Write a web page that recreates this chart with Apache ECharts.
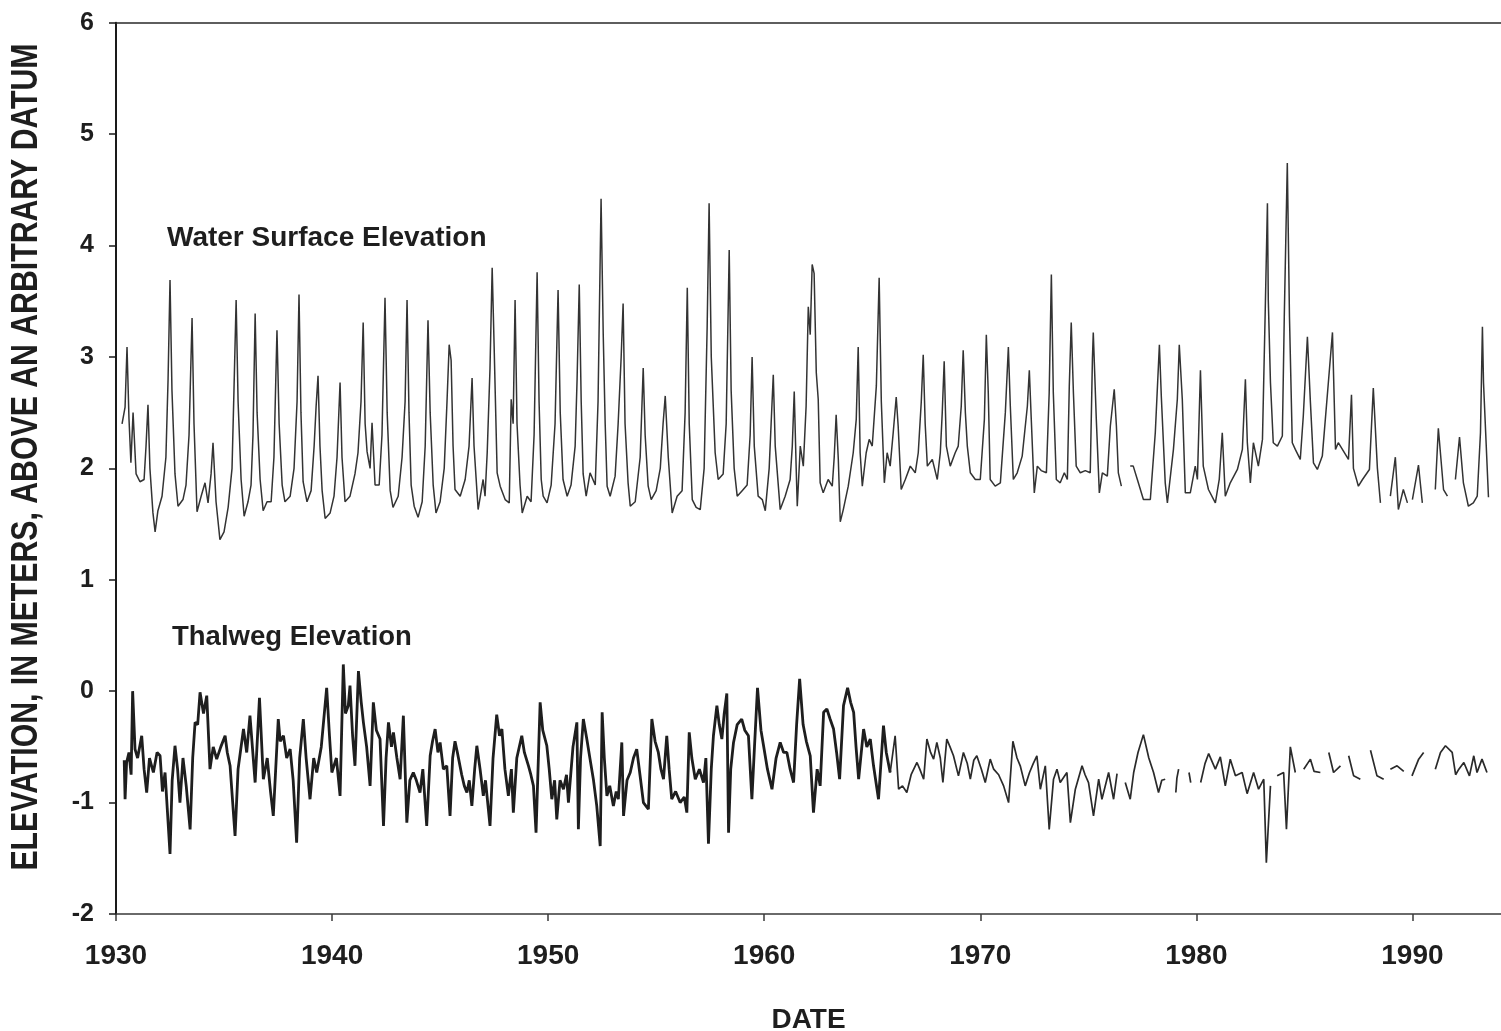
<!DOCTYPE html>
<html>
<head>
<meta charset="utf-8">
<script src="https://cdn.jsdelivr.net/npm/echarts@6/dist/echarts.min.js"></script>
<style>
html,body{margin:0;padding:0;background:#fff;}
#chart{width:1501px;height:1031px;}
</style>
</head>
<body>
<div id="chart"></div>
<script>
// ---- Axis ticks ----
var xTickYears = [1930, 1940, 1950, 1960, 1970, 1980, 1990];
var yTicks = [-2, -1, 0, 1, 2, 3, 4, 5, 6];

// ---- Water surface elevation [decimal year, metres] ----
var water1930s = [[1930.28,2.40],[1930.42,2.55],[1930.51,3.09],[1930.60,2.45],[1930.69,2.05],[1930.79,2.50],[1930.93,1.95],[1931.11,1.88],[1931.30,1.90],[1931.39,2.20],[1931.48,2.57],[1931.57,2.00],[1931.71,1.60],[1931.81,1.43],[1931.94,1.62],[1932.13,1.75],[1932.31,2.10],[1932.41,2.80],[1932.50,3.69],[1932.59,2.70],[1932.73,1.95],[1932.87,1.66],[1933.10,1.72],[1933.24,1.85],[1933.38,2.30],[1933.52,3.35],[1933.61,2.40],[1933.75,1.61],[1933.94,1.75],[1934.12,1.87],[1934.26,1.69],[1934.40,1.95],[1934.49,2.23],[1934.63,1.70],[1934.81,1.36],[1935.00,1.43],[1935.19,1.65],[1935.37,2.00],[1935.46,2.70],[1935.56,3.51],[1935.65,2.60],[1935.79,1.90],[1935.93,1.57],[1936.11,1.70],[1936.25,1.85],[1936.34,2.30],[1936.44,3.39],[1936.53,2.50],[1936.67,1.90],[1936.81,1.62],[1936.99,1.70],[1937.18,1.70],[1937.31,2.10],[1937.45,3.24],[1937.55,2.40],[1937.69,1.85],[1937.82,1.70],[1938.06,1.75],[1938.24,2.00],[1938.38,2.60],[1938.47,3.56],[1938.56,2.50],[1938.66,1.88],[1938.84,1.70],[1939.03,1.80],[1939.17,2.20],[1939.26,2.55],[1939.35,2.83],[1939.44,2.20],[1939.54,1.80],[1939.68,1.55],[1939.91,1.60]];
var water1940s = [[1940.09,1.75],[1940.23,2.10],[1940.37,2.77],[1940.46,2.10],[1940.60,1.70],[1940.83,1.75],[1941.06,1.95],[1941.20,2.14],[1941.34,2.60],[1941.44,3.31],[1941.53,2.40],[1941.62,2.15],[1941.76,2.00],[1941.85,2.41],[1941.99,1.85],[1942.18,1.85],[1942.31,2.30],[1942.45,3.53],[1942.55,2.50],[1942.69,1.80],[1942.82,1.65],[1943.06,1.75],[1943.24,2.10],[1943.38,2.60],[1943.47,3.51],[1943.56,2.50],[1943.66,1.85],[1943.80,1.66],[1943.98,1.56],[1944.17,1.70],[1944.31,2.20],[1944.44,3.33],[1944.54,2.50],[1944.68,1.85],[1944.81,1.60],[1945.00,1.70],[1945.19,2.00],[1945.32,2.60],[1945.42,3.11],[1945.51,2.97],[1945.60,2.20],[1945.69,1.81],[1945.93,1.75],[1946.16,1.90],[1946.34,2.20],[1946.48,2.81],[1946.57,2.20],[1946.76,1.63],[1946.99,1.90],[1947.08,1.75],[1947.18,2.14],[1947.31,2.90],[1947.41,3.80],[1947.50,3.10],[1947.64,1.96],[1947.78,1.84],[1948.01,1.72],[1948.20,1.69],[1948.29,2.62],[1948.38,2.40],[1948.47,3.51],[1948.56,2.40],[1948.70,1.85],[1948.80,1.60],[1949.03,1.75],[1949.21,1.70],[1949.35,2.30],[1949.49,3.76],[1949.58,2.60],[1949.68,1.90],[1949.77,1.75],[1949.95,1.69]];
var water1950s = [[1950.14,1.85],[1950.32,2.40],[1950.46,3.60],[1950.56,2.50],[1950.69,1.90],[1950.88,1.75],[1951.06,1.85],[1951.25,2.20],[1951.34,2.80],[1951.44,3.65],[1951.53,2.60],[1951.62,1.95],[1951.76,1.75],[1951.94,1.96],[1952.18,1.85],[1952.31,2.60],[1952.45,4.42],[1952.55,3.20],[1952.64,2.40],[1952.73,1.84],[1952.87,1.75],[1953.10,1.93],[1953.24,2.40],[1953.38,3.00],[1953.47,3.48],[1953.56,2.40],[1953.70,1.87],[1953.80,1.66],[1954.03,1.70],[1954.26,2.10],[1954.40,2.90],[1954.49,2.30],[1954.63,1.84],[1954.77,1.72],[1955.00,1.80],[1955.19,2.00],[1955.32,2.40],[1955.42,2.65],[1955.56,2.10],[1955.74,1.60],[1955.97,1.75],[1956.20,1.80],[1956.34,2.50],[1956.44,3.62],[1956.53,2.40],[1956.67,1.72],[1956.85,1.65],[1957.04,1.63],[1957.22,2.00],[1957.36,3.27],[1957.45,4.38],[1957.55,3.00],[1957.73,2.14],[1957.87,1.90],[1958.10,1.95],[1958.24,2.40],[1958.38,3.96],[1958.47,2.70],[1958.61,2.00],[1958.75,1.75],[1958.98,1.80],[1959.21,1.85],[1959.35,2.30],[1959.44,3.00],[1959.54,2.20],[1959.72,1.75],[1959.91,1.72]];
var water1960s = [[1960.05,1.62],[1960.23,2.00],[1960.32,2.40],[1960.42,2.84],[1960.51,2.20],[1960.74,1.63],[1960.97,1.75],[1961.20,1.90],[1961.30,2.20],[1961.39,2.69],[1961.48,2.00],[1961.53,1.66],[1961.67,2.20],[1961.81,2.02],[1961.94,2.56],[1962.04,3.45],[1962.13,3.20],[1962.22,3.83],[1962.31,3.75],[1962.41,2.86],[1962.50,2.62],[1962.59,1.87],[1962.73,1.78],[1962.96,1.90],[1963.15,1.84],[1963.24,2.10],[1963.33,2.48],[1963.43,2.08],[1963.52,1.52],[1963.66,1.63],[1963.89,1.84],[1964.12,2.14],[1964.26,2.44],[1964.35,3.09],[1964.44,2.14],[1964.54,1.84],[1964.72,2.14],[1964.86,2.26],[1965.00,2.20],[1965.19,2.74],[1965.32,3.71],[1965.42,2.60],[1965.56,1.87],[1965.69,2.14],[1965.83,2.02],[1965.97,2.32],[1966.11,2.64],[1966.20,2.38],[1966.34,1.81],[1966.53,1.90],[1966.76,2.02],[1966.99,1.96],[1967.13,2.14],[1967.27,2.60],[1967.36,3.02],[1967.45,2.40],[1967.55,2.02],[1967.78,2.08],[1968.01,1.90],[1968.15,2.14],[1968.24,2.50],[1968.33,2.96],[1968.43,2.20],[1968.61,2.02],[1968.84,2.14],[1968.98,2.20],[1969.12,2.56],[1969.21,3.06],[1969.31,2.50],[1969.40,2.20],[1969.54,1.96],[1969.77,1.90]];
var water1970s = [[1970.00,1.90],[1970.19,2.44],[1970.28,3.20],[1970.37,2.68],[1970.46,1.90],[1970.69,1.84],[1970.93,1.87],[1971.16,2.50],[1971.30,3.09],[1971.39,2.56],[1971.53,1.90],[1971.71,1.96],[1971.94,2.11],[1972.18,2.56],[1972.27,2.88],[1972.36,2.44],[1972.50,1.78],[1972.64,2.02],[1972.82,1.98],[1973.06,1.96],[1973.19,2.68],[1973.29,3.74],[1973.38,2.68],[1973.52,1.90],[1973.70,1.87],[1973.89,1.96],[1974.03,1.90],[1974.12,2.74],[1974.21,3.31],[1974.31,2.68],[1974.44,2.02],[1974.63,1.96],[1974.86,1.98],[1975.09,1.96],[1975.19,2.98],[1975.23,3.22],[1975.37,2.44],[1975.51,1.78],[1975.65,1.96],[1975.88,1.93],[1976.02,2.38],[1976.20,2.71],[1976.30,2.38],[1976.39,1.96],[1976.53,1.84],[1976.75,'-'],[1976.94,2.02],[1977.08,2.02],[1977.27,1.90],[1977.55,1.72],[1977.64,1.72],[1977.87,1.72],[1978.10,2.32],[1978.29,3.11],[1978.38,2.64],[1978.56,1.87],[1978.66,1.69],[1978.94,2.17],[1979.12,2.62],[1979.21,3.11],[1979.35,2.62],[1979.49,1.78],[1979.72,1.78],[1979.95,2.02]];
var water1980s = [[1980.05,1.90],[1980.19,2.88],[1980.32,2.02],[1980.56,1.81],[1980.88,1.69],[1981.06,1.90],[1981.20,2.32],[1981.34,1.75],[1981.57,1.87],[1981.90,1.99],[1982.13,2.17],[1982.27,2.80],[1982.36,2.23],[1982.50,1.87],[1982.64,2.23],[1982.87,2.02],[1983.06,2.26],[1983.19,3.43],[1983.29,4.38],[1983.33,3.51],[1983.43,2.77],[1983.56,2.23],[1983.75,2.20],[1983.98,2.29],[1984.07,3.36],[1984.21,4.74],[1984.31,3.36],[1984.44,2.23],[1984.58,2.17],[1984.81,2.08],[1984.95,2.47],[1985.14,3.18],[1985.28,2.59],[1985.42,2.05],[1985.60,1.99],[1985.83,2.11],[1986.11,2.77],[1986.30,3.22],[1986.44,2.17],[1986.57,2.23],[1986.76,2.17],[1987.04,2.08],[1987.18,2.66],[1987.27,2.00],[1987.50,1.84],[1987.69,1.90],[1988.01,1.99],[1988.19,2.72],[1988.38,2.00],[1988.52,1.69],[1988.75,'-'],[1988.98,1.75],[1989.21,2.10],[1989.35,1.63],[1989.58,1.81],[1989.77,1.69],[1989.90,'-']];
var water1990s = [[1990.00,1.72],[1990.28,2.03],[1990.46,1.69],[1990.75,'-'],[1991.06,1.81],[1991.20,2.36],[1991.44,1.81],[1991.62,1.75],[1991.80,'-'],[1991.99,1.90],[1992.18,2.28],[1992.36,1.87],[1992.59,1.66],[1992.82,1.69],[1993.00,1.75],[1993.15,2.32],[1993.24,3.27],[1993.29,2.77],[1993.52,1.74]];

// ---- Thalweg elevation [decimal year, metres] ----
var thal1930s = [[1930.38,-0.62],[1930.42,-0.97],[1930.49,-0.64],[1930.60,-0.55],[1930.70,-0.75],[1930.77,0.00],[1930.88,-0.52],[1931.00,-0.60],[1931.19,-0.40],[1931.30,-0.70],[1931.42,-0.91],[1931.55,-0.60],[1931.73,-0.73],[1931.90,-0.55],[1932.04,-0.58],[1932.15,-0.90],[1932.27,-0.73],[1932.50,-1.46],[1932.60,-0.80],[1932.73,-0.49],[1932.85,-0.70],[1932.96,-1.00],[1933.10,-0.60],[1933.25,-0.85],[1933.43,-1.24],[1933.55,-0.60],[1933.66,-0.28],[1933.78,-0.30],[1933.89,-0.01],[1934.05,-0.20],[1934.20,-0.04],[1934.35,-0.70],[1934.50,-0.50],[1934.66,-0.61],[1934.85,-0.50],[1935.05,-0.40],[1935.15,-0.55],[1935.28,-0.67],[1935.51,-1.30],[1935.65,-0.70],[1935.90,-0.34],[1936.05,-0.55],[1936.20,-0.22],[1936.44,-0.82],[1936.64,-0.06],[1936.82,-0.79],[1937.00,-0.60],[1937.15,-0.90],[1937.28,-1.12],[1937.51,-0.25],[1937.60,-0.45],[1937.75,-0.40],[1937.90,-0.60],[1938.06,-0.52],[1938.20,-0.80],[1938.36,-1.36],[1938.50,-0.60],[1938.67,-0.25],[1938.80,-0.60],[1938.98,-0.97],[1939.15,-0.60],[1939.29,-0.73],[1939.50,-0.50],[1939.75,0.03],[1939.88,-0.40],[1939.99,-0.73]];
var thal1940s = [[1940.20,-0.60],[1940.37,-0.94],[1940.52,0.24],[1940.62,-0.20],[1940.75,-0.13],[1940.83,0.05],[1940.95,-0.40],[1941.06,-0.67],[1941.22,0.18],[1941.35,-0.10],[1941.45,-0.28],[1941.60,-0.50],[1941.76,-0.85],[1941.91,-0.10],[1942.05,-0.35],[1942.22,-0.43],[1942.38,-1.21],[1942.50,-0.60],[1942.61,-0.28],[1942.75,-0.50],[1942.84,-0.37],[1943.00,-0.60],[1943.15,-0.79],[1943.30,-0.22],[1943.46,-1.18],[1943.60,-0.80],[1943.76,-0.73],[1943.90,-0.80],[1944.07,-0.91],[1944.20,-0.70],[1944.38,-1.21],[1944.54,-0.58],[1944.65,-0.45],[1944.77,-0.34],[1944.90,-0.55],[1945.00,-0.46],[1945.15,-0.70],[1945.31,-0.67],[1945.46,-1.12],[1945.58,-0.60],[1945.69,-0.45],[1945.80,-0.55],[1946.00,-0.75],[1946.12,-0.85],[1946.24,-0.91],[1946.35,-0.80],[1946.47,-1.03],[1946.60,-0.70],[1946.70,-0.49],[1946.85,-0.70],[1947.00,-0.94],[1947.10,-0.80],[1947.31,-1.21],[1947.45,-0.60],[1947.62,-0.21],[1947.75,-0.40],[1947.86,-0.34],[1948.00,-0.70],[1948.16,-0.94],[1948.30,-0.70],[1948.39,-1.09],[1948.55,-0.60],[1948.78,-0.40],[1948.90,-0.55],[1949.09,-0.67],[1949.20,-0.75],[1949.32,-0.85],[1949.44,-1.27],[1949.63,-0.10],[1949.75,-0.35],[1949.94,-0.49]];
var thal1950s = [[1950.05,-0.70],[1950.17,-0.97],[1950.30,-0.80],[1950.40,-1.15],[1950.55,-0.80],[1950.71,-0.88],[1950.85,-0.75],[1950.94,-1.00],[1951.15,-0.50],[1951.33,-0.28],[1951.40,-1.24],[1951.50,-0.60],[1951.63,-0.25],[1951.79,-0.43],[1951.94,-0.61],[1952.10,-0.80],[1952.25,-1.03],[1952.41,-1.39],[1952.50,-0.19],[1952.60,-0.60],[1952.72,-0.94],[1952.85,-0.85],[1953.02,-1.03],[1953.15,-0.90],[1953.25,-0.97],[1953.41,-0.46],[1953.49,-1.12],[1953.65,-0.80],[1953.80,-0.73],[1953.95,-0.60],[1954.10,-0.52],[1954.25,-0.75],[1954.41,-1.00],[1954.64,-1.06],[1954.80,-0.25],[1954.95,-0.45],[1955.10,-0.55],[1955.22,-0.70],[1955.34,-0.79],[1955.49,-0.40],[1955.60,-0.70],[1955.72,-0.97],[1955.90,-0.90],[1956.11,-1.00],[1956.30,-0.95],[1956.42,-1.09],[1956.53,-0.37],[1956.65,-0.60],[1956.81,-0.79],[1957.00,-0.70],[1957.19,-0.82],[1957.30,-0.60],[1957.42,-1.37],[1957.55,-0.70],[1957.65,-0.40],[1957.81,-0.13],[1957.92,-0.30],[1958.04,-0.43],[1958.15,-0.20],[1958.27,-0.02],[1958.35,-1.27],[1958.45,-0.70],[1958.58,-0.46],[1958.75,-0.30],[1958.96,-0.25],[1959.10,-0.35],[1959.27,-0.40],[1959.43,-0.97],[1959.55,-0.50],[1959.69,0.03],[1959.85,-0.35],[1959.97,-0.49]];
var thal1960s = [[1960.15,-0.70],[1960.36,-0.88],[1960.55,-0.60],[1960.74,-0.46],[1960.90,-0.55],[1961.05,-0.55],[1961.20,-0.70],[1961.36,-0.82],[1961.50,-0.30],[1961.64,0.11],[1961.80,-0.30],[1961.95,-0.45],[1962.13,-0.58],[1962.28,-1.09],[1962.45,-0.70],[1962.59,-0.85],[1962.75,-0.19],[1962.90,-0.16],[1963.05,-0.25],[1963.21,-0.34],[1963.35,-0.55],[1963.49,-0.79],[1963.67,-0.13],[1963.86,0.03],[1964.00,-0.10],[1964.14,-0.19],[1964.25,-0.50],[1964.37,-0.79],[1964.60,-0.34],[1964.75,-0.50],[1964.91,-0.43],[1965.06,-0.67],[1965.29,-0.97],[1965.52,-0.31],[1965.65,-0.55],[1965.83,-0.73],[1966.06,-0.40],[1966.22,-0.88],[1966.40,-0.85],[1966.60,-0.91],[1966.80,-0.75],[1967.07,-0.64],[1967.20,-0.70],[1967.38,-0.79],[1967.53,-0.43],[1967.70,-0.55],[1967.84,-0.61],[1967.99,-0.46],[1968.15,-0.60],[1968.27,-0.82],[1968.45,-0.43],[1968.60,-0.50],[1968.76,-0.58],[1968.99,-0.76],[1969.22,-0.55],[1969.40,-0.65],[1969.54,-0.79],[1969.70,-0.62],[1969.84,-0.58]];
var thal1970s = [[1970.05,-0.70],[1970.23,-0.82],[1970.46,-0.61],[1970.62,-0.70],[1970.85,-0.75],[1971.08,-0.85],[1971.31,-1.00],[1971.51,-0.45],[1971.70,-0.60],[1971.85,-0.67],[1972.08,-0.85],[1972.28,-0.73],[1972.45,-0.65],[1972.62,-0.58],[1972.78,-0.88],[1973.01,-0.67],[1973.19,-1.24],[1973.39,-0.79],[1973.55,-0.70],[1973.70,-0.82],[1974.01,-0.73],[1974.17,-1.18],[1974.40,-0.88],[1974.71,-0.67],[1974.85,-0.75],[1975.01,-0.82],[1975.24,-1.12],[1975.48,-0.79],[1975.63,-0.97],[1975.94,-0.73],[1976.17,-0.97],[1976.33,-0.74],[1976.50,'-'],[1976.71,-0.82],[1976.94,-0.97],[1977.10,-0.73],[1977.30,-0.55],[1977.55,-0.39],[1977.80,-0.60],[1978.02,-0.73],[1978.25,-0.91],[1978.40,-0.80],[1978.56,-0.79],[1978.80,'-'],[1979.05,-0.91],[1979.10,-0.78],[1979.18,-0.70],[1979.40,'-'],[1979.66,-0.73],[1979.74,-0.82],[1979.95,'-']];
var thal1980s = [[1980.20,-0.82],[1980.40,-0.65],[1980.57,-0.56],[1980.88,-0.70],[1981.11,-0.59],[1981.34,-0.85],[1981.57,-0.61],[1981.81,-0.76],[1982.12,-0.73],[1982.35,-0.92],[1982.65,-0.73],[1982.88,-0.88],[1983.12,-0.79],[1983.24,-1.54],[1983.43,-0.85],[1983.60,'-'],[1983.74,-0.76],[1984.04,-0.73],[1984.17,-1.24],[1984.35,-0.50],[1984.58,-0.73],[1984.80,'-'],[1984.97,-0.70],[1985.28,-0.61],[1985.45,-0.72],[1985.74,-0.73],[1985.95,'-'],[1986.13,-0.55],[1986.35,-0.73],[1986.67,-0.67],[1986.85,'-'],[1987.05,-0.58],[1987.28,-0.76],[1987.59,-0.79],[1987.80,'-'],[1988.06,-0.53],[1988.36,-0.76],[1988.67,-0.79],[1988.85,'-'],[1988.98,-0.70],[1989.29,-0.67],[1989.60,-0.72],[1989.80,'-']];
var thal1990s = [[1989.98,-0.76],[1990.29,-0.61],[1990.52,-0.55],[1990.80,'-'],[1991.06,-0.70],[1991.30,-0.55],[1991.53,-0.49],[1991.84,-0.55],[1992.00,-0.75],[1992.15,-0.70],[1992.38,-0.64],[1992.64,-0.76],[1992.84,-0.58],[1992.99,-0.73],[1993.22,-0.61],[1993.45,-0.73]];

var waterData = [].concat(water1930s, water1940s, water1950s, water1960s, water1970s, water1980s, water1990s);
var thalEarly = [].concat(thal1930s, thal1940s, thal1950s, thal1960s.slice(0, 36));
var thalLate = [].concat(thal1960s.slice(35), thal1970s, thal1980s, thal1990s);

var FONT = '"Liberation Sans", Arial, Helvetica, sans-serif';
var INK = '#1e1e1e';

var chart = echarts.init(document.getElementById('chart'), null, {renderer: 'canvas'});
chart.setOption({
  animation: false,
  backgroundColor: '#ffffff',
  grid: {left: 116, right: 0, top: 22.7, bottom: 117, containLabel: false, outerBoundsMode: 'none'},
  xAxis: [{
    type: 'value', min: 1930, max: 1994.1, interval: 10,
    axisLine: {show: true, onZero: false, lineStyle: {color: '#3a3a3a', width: 1.5}},
    axisTick: {show: true, length: 7, lineStyle: {color: '#3a3a3a', width: 1.5}},
    splitLine: {show: false},
    axisLabel: {
      margin: 28, fontSize: 28, fontWeight: 'bold', fontFamily: FONT, color: INK,
      showMaxLabel: false,
      formatter: function (v) { return xTickYears.indexOf(v) >= 0 ? String(v) : ''; }
    },
    name: 'DATE', nameLocation: 'middle', nameGap: 92,
    nameTextStyle: {fontSize: 28, fontWeight: 'bold', fontFamily: FONT, color: INK}
  }, {
    type: 'value', position: 'top', min: 1930, max: 1994.1,
    axisLine: {show: true, onZero: false, lineStyle: {color: '#2a2a2a', width: 1.5}},
    axisTick: {show: false}, axisLabel: {show: false}, splitLine: {show: false}
  }],
  yAxis: {
    type: 'value', min: -2, max: 6, interval: 1,
    axisLine: {show: true, onZero: false, lineStyle: {color: '#1a1a1a', width: 2}},
    axisTick: {show: true, length: 7, lineStyle: {color: '#1a1a1a', width: 1.5}},
    splitLine: {show: false},
    axisLabel: {
      margin: 22, fontSize: 25, fontWeight: 'bold', fontFamily: FONT, color: INK,
      formatter: function (v) { return yTicks.indexOf(v) >= 0 ? String(v) : ''; }
    }
  },
  graphic: [
    {type: 'text', x: 167, y: 238, style: {text: 'Water Surface Elevation', font: 'bold 28px ' + FONT, fill: INK, textAlign: 'left', textVerticalAlign: 'middle', align: 'left', verticalAlign: 'middle'}},
    {type: 'text', x: 172, y: 637, style: {text: 'Thalweg Elevation', font: 'bold 27.5px ' + FONT, fill: INK, textAlign: 'left', textVerticalAlign: 'middle', align: 'left', verticalAlign: 'middle'}},
    {type: 'text', x: 27, y: 457, rotation: Math.PI / 2, scaleX: 0.84, scaleY: 1,
     style: {text: 'ELEVATION, IN METERS, ABOVE AN ARBITRARY DATUM', font: 'bold 36px ' + FONT, fill: INK, textAlign: 'center', textVerticalAlign: 'middle', align: 'center', verticalAlign: 'middle'}}
  ],
  series: [
    {name: 'Water Surface Elevation', type: 'line', data: waterData, showSymbol: false, symbol: 'none',
     lineStyle: {color: '#333333', width: 1.5}, connectNulls: false, z: 3},
    {name: 'Thalweg Elevation', type: 'line', data: thalEarly, showSymbol: false, symbol: 'none',
     lineStyle: {color: '#1e1e1e', width: 2.8}, connectNulls: false, z: 3},
    {name: 'Thalweg Elevation', type: 'line', data: thalLate, showSymbol: false, symbol: 'none',
     lineStyle: {color: '#2a2a2a', width: 1.7}, connectNulls: false, z: 3}
  ]
});
</script>
</body>
</html>
